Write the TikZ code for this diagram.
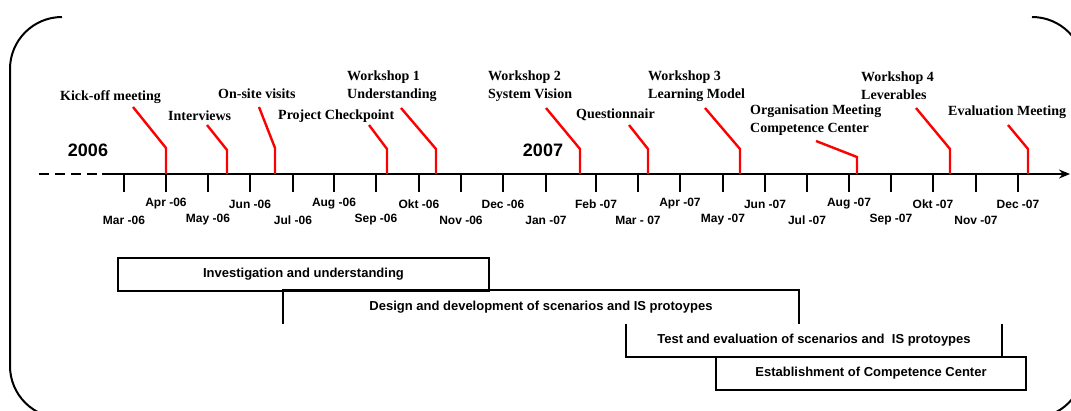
\documentclass[tikz,border=0pt]{standalone}
\usepackage{fontspec}
\setmainfont{Liberation Serif}
\setsansfont{Liberation Sans}
\usepackage{tikz}
\usetikzlibrary{arrows.meta}
\definecolor{marker}{RGB}{255,0,0}
\tikzset{
  frame/.style={draw=black, line width=2pt, rounded corners=52pt},
  axisline/.style={draw=black, line width=2.2pt},
  tick/.style={draw=black, line width=2pt},
  event/.style={font=\bfseries\fontsize{14}{18}\selectfont, align=left, anchor=west, inner sep=0pt},
  month/.style={font=\sffamily\bfseries\fontsize{12}{14}\selectfont, inner sep=0pt},
  year/.style={font=\sffamily\bfseries\fontsize{18}{20}\selectfont, inner sep=0pt},
  phase/.style={font=\sffamily\bfseries\fontsize{13}{15}\selectfont, minimum height=33pt, inner sep=0pt},
  phasebox/.style={phase, draw, line width=2pt},
  redline/.style={draw=marker, line width=2.4pt},
}
\begin{document}
\begin{tikzpicture}[x=1pt, y=-1pt]
  \useasboundingbox (0,0) rectangle (1071,410);
  \clip (0,0) rectangle (1071,410);

  \draw[frame] (62,17) -- (10,17) -- (10,418) -- (62,418);
  \draw[frame] (1032,17) -- (1084,17) -- (1084,418) -- (1032,418);

  \coordinate (axisstart) at (39,174);
  \coordinate (axisbreak) at (102,174);
  \coordinate (axisend) at (1070,174);
  \draw[axisline, dash pattern=on 10pt off 6pt] (axisstart) -- (axisbreak);
  \draw[axisline, -{Stealth[length=11pt, width=9pt]}] (axisbreak) -- (axisend);

  \foreach \x/\m [count=\i from 0] in {124/Mar -06, 166/Apr -06, 208/May -06,
      250/Jun -06, 293/Jul -06, 334/Aug -06, 376/Sep -06, 419/Okt -06,
      461/Nov -06, 503/Dec -06, 546/Jan -07, 596/Feb -07, 638/Mar - 07,
      680/Apr -07, 723/May -07, 765/Jun -07, 807/Jul -07, 849/Aug -07,
      891/Sep -07, 933/Okt -07, 976/Nov -07, 1018/Dec -07} {
    \coordinate (t\i) at (\x,174);
    \draw[tick] (t\i) -- ++(0,18);
    \node[month] (m\i) at (\x,{220-16*mod(\i,2)}) {\m};
  }

  \node[year] (y2006) at (88,150) {2006};
  \node[year] (y2007) at (543,150) {2007};

  \node[event] (kickoff) at (60,97) {Kick-off meeting};
  \node[event] (interviews) at (168,116) {Interviews};
  \node[event] (onsite) at (218,94) {On-site visits};
  \node[event] (checkpoint) at (278,116) {Project Checkpoint};
  \node[event] (ws1) at (347,86) {Workshop 1\\Understanding};
  \node[event] (ws2) at (488,86) {Workshop 2\\System Vision};
  \node[event] (quest) at (576,115) {Questionnair};
  \node[event] (ws3) at (648,86) {Workshop 3\\Learning Model};
  \node[event] (orgmeet) at (750,120) {Organisation Meeting\\Competence Center};
  \node[event] (ws4) at (861,86) {Workshop 4\\Leverables};
  \node[event] (evalmeet) at (948,112) {Evaluation Meeting};

  \foreach \n/\ax/\by/\ex/\ey in {kickoff/166/148/133/107, interviews/227/150/207/125,
      onsite/275/148/259/107, checkpoint/387/149/369/125, ws1/436/149/401/108,
      ws2/580/149/546/108, quest/648/149/629/125, ws3/740/149/705/108,
      orgmeet/857/157/816/141, ws4/950/149/916/108, evalmeet/1028/149/1008/125} {
    \coordinate (\n-a) at (\ax,174);
    \coordinate (\n-b) at (\ax,\by);
    \coordinate (\n-c) at (\ex,\ey);
    \draw[redline] (\n-a) -- (\n-b) -- (\n-c);
  }

  \node[phasebox, minimum width=371pt] (investigation) at (303.5,274.5) {Investigation and understanding};
  \node[phase, minimum width=516pt] (design) at (541,307) {Design and development of scenarios and IS protoypes};
  \node[phase, minimum width=376pt] (test) at (814,340.5) {Test and evaluation of scenarios and \ IS protoypes};
  \node[phasebox, minimum width=310pt] (competence) at (871,373.5) {Establishment of Competence Center};
  \draw[line width=2pt] (design.south west) |- (design.north east) -- (design.south east);
  \draw[line width=2pt] (test.north west) |- (test.south east) -- (test.north east);
\end{tikzpicture}
\end{document}
